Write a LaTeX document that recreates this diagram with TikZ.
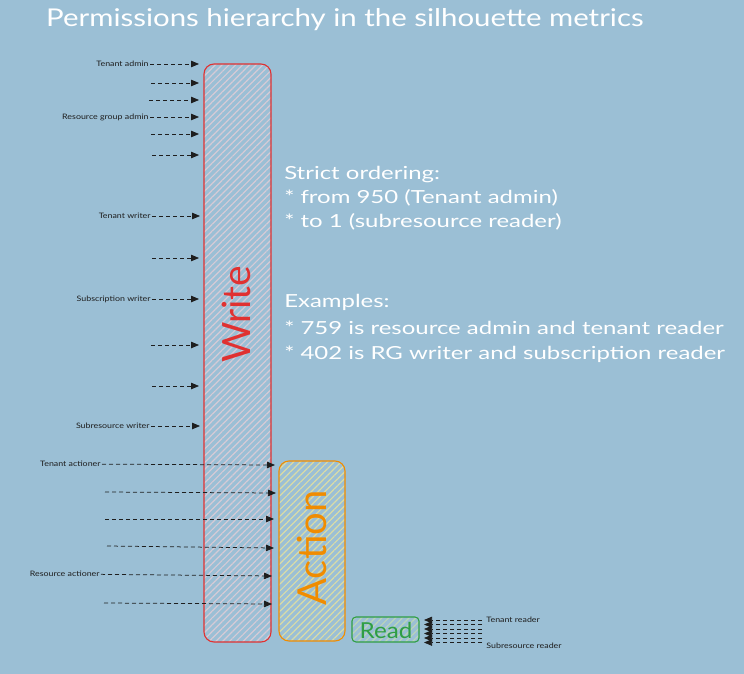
\documentclass[tikz,border=0pt]{standalone}
\usepackage{fontspec}
\setmainfont{Lato}
\usetikzlibrary{arrows.meta,patterns.meta}
\definecolor{bg}{HTML}{9BBFD5}
\definecolor{wred}{HTML}{E03131}
\definecolor{aorange}{HTML}{F08C00}
\definecolor{rgreen}{HTML}{2F9E44}
\definecolor{ink}{HTML}{1E1E1E}
\definecolor{whatch}{HTML}{D6CBD6}
\definecolor{ahatch}{HTML}{DADCA6}
\definecolor{rhatch}{HTML}{BCD6B8}
\begin{document}
\begin{tikzpicture}[x=1pt,y=-1pt,
  lbl/.style={font=\fontsize{7.5}{9}\selectfont, text=ink, inner sep=1pt, xscale=1.18},
  conn/.style={draw=ink, dash pattern=on 4pt off 3pt, line width=0.75pt, -{Triangle[length=8pt,width=6.5pt]}},
  hatchbox/.style={rounded corners=10pt, line width=1.1pt, inner sep=0pt, pattern={Lines[angle=45,distance=4.8pt,line width=1.2pt]}},
  note/.style={font=\fontsize{18}{23}\selectfont, text=white, anchor=west, inner sep=0pt, xscale=1.33}]
\fill[bg] (0,0) rectangle (744,674);
\useasboundingbox (0,0) rectangle (744,674);
% title
\node[font=\fontsize{24.5}{30}\selectfont, text=white, anchor=west, inner sep=0pt, xscale=1.2] (title) at (46,20) {Permissions hierarchy in the silhouette metrics};
% boxes
\node[hatchbox, draw=wred, pattern color=whatch, minimum width=67pt, minimum height=578pt] (write) at (237.5,353) {};
\node[rotate=90, text=wred, font=\fontsize{39}{40}\selectfont, inner sep=0pt] (writet) at (236,314) {Write};
\node[hatchbox, draw=aorange, pattern color=ahatch, minimum width=66pt, minimum height=180pt] (action) at (312,551) {};
\node[rotate=90, text=aorange, font=\fontsize{40}{42}\selectfont, inner sep=0pt] (actiont) at (312,548) {Action};
\node[hatchbox, rounded corners=4pt, draw=rgreen, pattern color=rhatch, minimum width=67pt, minimum height=25pt] (read) at (385.5,629.5) {};
\node[text=rgreen, font=\fontsize{22}{24}\selectfont, inner sep=0pt, xscale=1.1] (readt) at (386,630) {Read};
% notes
\node[note] (n1) at (284,175) {Strict ordering:};
\node[note] (n2) at (284,198) {* from 950 (Tenant admin)};
\node[note] (n3) at (284,222) {* to 1 (subresource reader)};
\node[note] (n4) at (284,302) {Examples:};
\node[note] (n5) at (284,328) {* 759 is resource admin and tenant reader};
\node[note] (n6) at (284,354) {* 402 is RG writer and subscription reader};
% write arrows (labelled)
\node[lbl, anchor=east] (ta) at (150,64) {Tenant admin};
\coordinate (ta-e) at (199,64);
\draw[conn] (ta) -- (ta-e);
\node[lbl, anchor=east] (rga) at (150,117) {Resource group admin};
\coordinate (rga-e) at (199,117);
\draw[conn] (rga) -- (rga-e);
\node[lbl, anchor=east] (tw) at (152,216) {Tenant writer};
\coordinate (tw-e) at (200,216);
\draw[conn] (tw) -- (tw-e);
\node[lbl, anchor=east] (sw) at (152,299) {Subscription writer};
\coordinate (sw-e) at (199,299);
\draw[conn] (sw) -- (sw-e);
\node[lbl, anchor=east] (srw) at (151,426) {Subresource writer};
\coordinate (srw-e) at (200,426);
\draw[conn] (srw) -- (srw-e);
% write arrows (unlabelled)
\foreach \n/\xs/\yy in {w2/151/83, w3/149/100, w5/151/134, w6/152/155, w8/152/258, w10/151/345, w11/152/386} {
  \coordinate (\n-s) at (\xs,\yy);
  \coordinate (\n-e) at (199,\yy);
  \draw[conn] (\n-s) -- (\n-e);
}
% action arrows
\node[lbl, anchor=east] (tac) at (102,464) {Tenant actioner};
\coordinate (tac-e) at (275,465);
\draw[conn] (tac) -- (tac-e);
\node[lbl, anchor=east] (rac) at (101,574) {Resource actioner};
\coordinate (rac-e) at (272,576);
\draw[conn] (rac) -- (rac-e);
\foreach \n/\xs/\yy/\xe/\ye in {a2/105/492/276/493, a3/105/519/274/519, a4/107/546/274/548, a6/104/603/272/604} {
  \coordinate (\n-s) at (\xs,\yy);
  \coordinate (\n-e) at (\xe,\ye);
  \draw[conn] (\n-s) -- (\n-e);
}
% read arrows
\foreach \n/\yy in {r1/620, r2/624.5, r3/629, r4/633.5, r5/638, r6/642.5} {
  \coordinate (\n-s) at (482,\yy);
  \coordinate (\n-e) at (424,\yy);
  \draw[conn] (\n-s) -- (\n-e);
}
\node[lbl, anchor=west] (tr) at (485,620) {Tenant reader};
\node[lbl, anchor=west] (srr) at (485,646) {Subresource reader};
\end{tikzpicture}
\end{document}
